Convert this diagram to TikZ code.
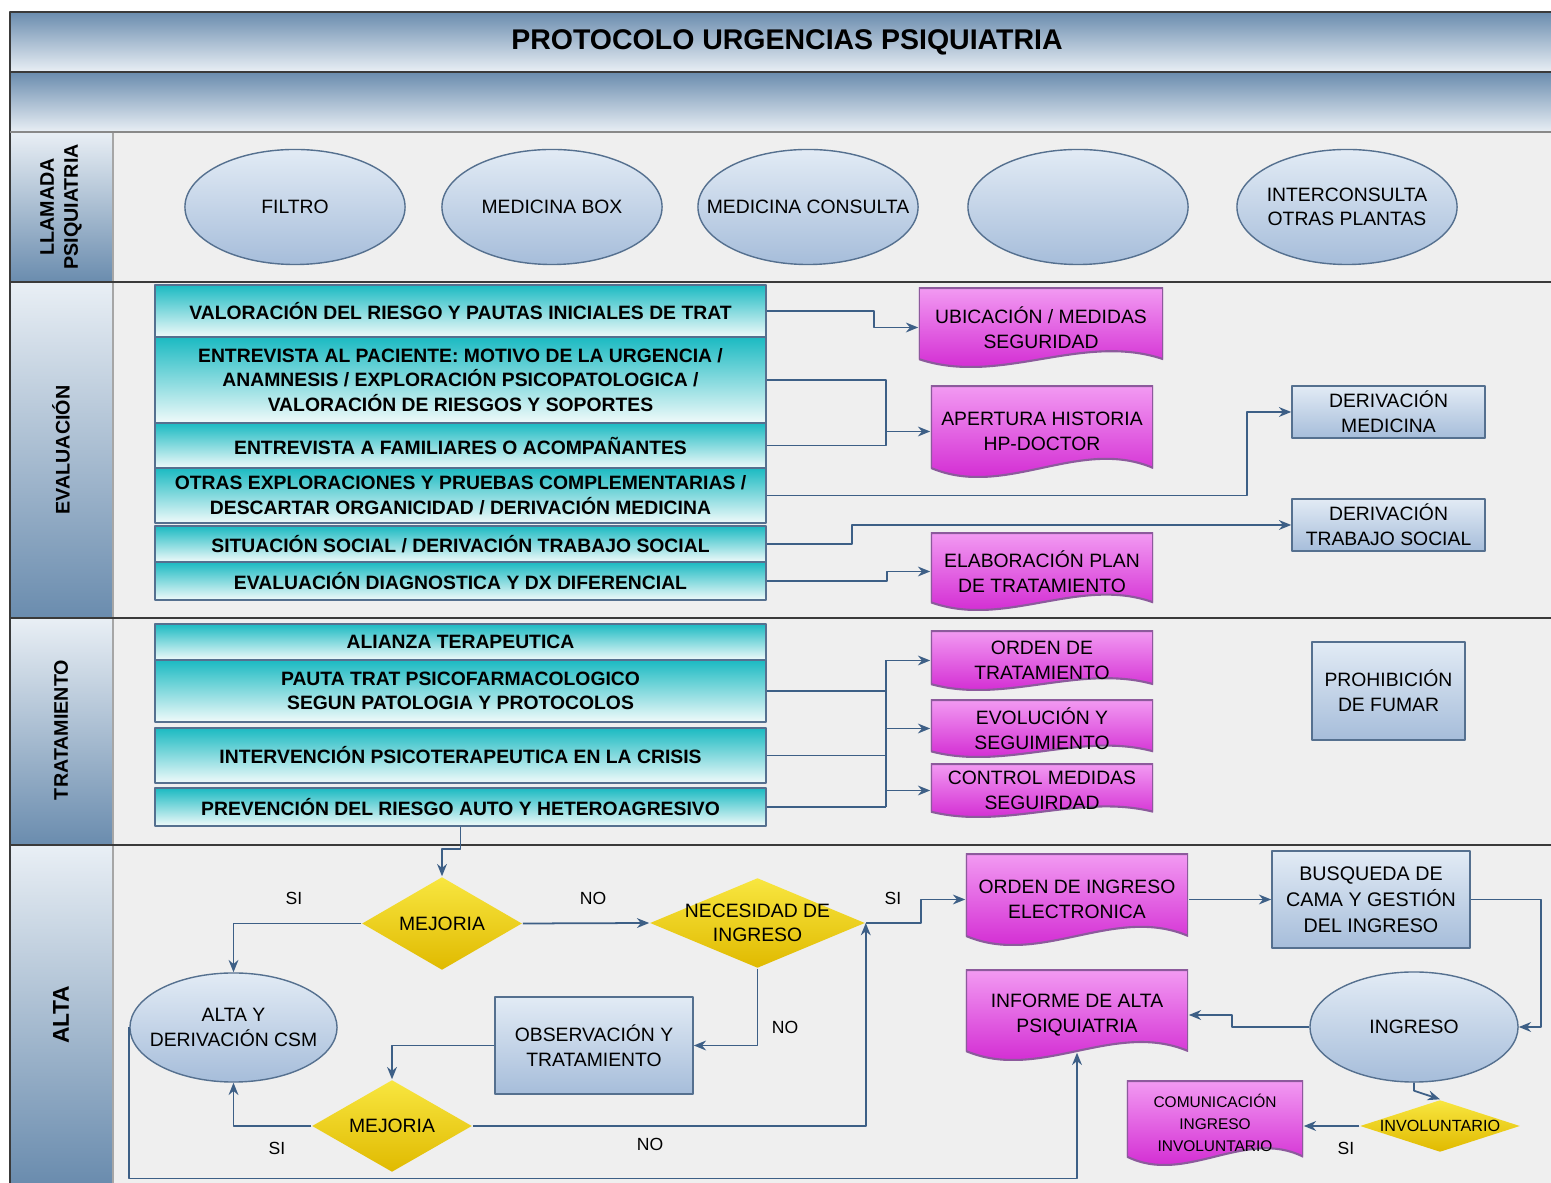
\documentclass[tikz,border=0pt]{standalone}
\usepackage{fontspec}
\setmainfont{Liberation Sans}
\usetikzlibrary{shapes.geometric,arrows.meta,calc}
\definecolor{lanebg}{HTML}{EFEFEF}
\definecolor{laneline}{HTML}{3A3A3A}
\definecolor{hdrdark}{HTML}{6A8CAE}
\definecolor{hdrlight}{HTML}{E9EFF5}
\definecolor{tealtop}{HTML}{1BBAC2}
\definecolor{tealbot}{HTML}{F0FAFA}
\definecolor{magtop}{HTML}{F29AF2}
\definecolor{magbot}{HTML}{CC14CC}
\definecolor{magline}{HTML}{8C5A9C}
\definecolor{bluetop}{HTML}{E2EBF5}
\definecolor{bluebot}{HTML}{A6BDDA}
\definecolor{yeltop}{HTML}{F8E640}
\definecolor{yelbot}{HTML}{E0BA00}
\definecolor{arrowc}{HTML}{3D5F86}
\definecolor{edgec}{HTML}{55708F}
\begin{document}
\begin{tikzpicture}[x=0.01cm,y=-0.01cm,>={Stealth[length=3.5pt,width=2.8pt]}, font=\fontsize{5.5}{7}\selectfont, line join=round,
	flow/.style={->, draw=arrowc, line width=0.5pt},
	wire/.style={draw=arrowc, line width=0.5pt},
	lanelbl/.style={rotate=90, align=center, font=\bfseries\fontsize{5.6}{6.8}\selectfont},
	ovalnode/.style={ellipse, draw=edgec, top color=bluetop, bottom color=bluebot, inner xsep=-0.25cm, inner ysep=0pt, align=center},
	bluebox/.style={rectangle, draw=edgec, top color=bluetop, bottom color=bluebot, inner sep=0pt, align=center},
	tealbox/.style={rectangle, draw=edgec, top color=tealtop, bottom color=tealbot, inner sep=0pt, align=center, minimum width=6.11cm, font=\bfseries\fontsize{5.5}{7}\selectfont},
	decision/.style={diamond, top color=yeltop, bottom color=yelbot, inner xsep=-0.15cm, inner ysep=-0.05cm, align=center},
	docbox/.style={rectangle, inner sep=0pt, align=center, path picture={
		\shade[top color=magtop, bottom color=magbot, draw=magline, line width=0.6pt]
			let \p1=(path picture bounding box.south west), \p2=(path picture bounding box.north east),
				\n1={\x2-\x1}, \n2={\y2-\y1} in
			(\x1,\y2) -- (\x2,\y2) -- (\x2,{\y1+0.1*\n2})
			.. controls ({\x1+0.667*\n1},{\y1+0.446*\n2}) and ({\x1+0.333*\n1},{\y1-0.246*\n2}) .. (\x1,{\y1+0.1*\n2}) -- cycle;}},
	lbl/.style={font=\fontsize{5}{6}\selectfont}]
	\useasboundingbox (0,0) rectangle (1551,1183);
	\fill[white] (0,0) rectangle (1551,1183);
	% calles
	\fill[lanebg] (10,132) rectangle (1551,1183);
	\shade[top color=hdrdark, bottom color=hdrlight] (10,12) rectangle (1551,72);
	\shade[top color=hdrdark, bottom color=hdrlight] (10,72) rectangle (1551,132);
	\shade[top color=hdrlight, bottom color=hdrdark] (10,132) rectangle (113,282);
	\shade[top color=hdrlight, bottom color=hdrdark] (10,282) rectangle (113,618);
	\shade[top color=hdrlight, bottom color=hdrdark] (10,618) rectangle (113,845);
	\shade[top color=hdrlight, bottom color=hdrdark] (10,845) rectangle (113,1183);
	\draw[gray!70] (113,132) -- (113,1183);
	\draw[laneline] (10,1183) -- (10,12) -- (1551,12);
	\draw[laneline] (10,72) -- (1551,72);
	\draw[laneline!60] (10,132) -- (1551,132);
	\draw[laneline] (10,282) -- (1551,282);
	\draw[laneline] (10,618) -- (1551,618);
	\draw[laneline] (10,845) -- (1551,845);
	\node[font=\bfseries\fontsize{8.1}{10}\selectfont] (titulo) at (787,42) {PROTOCOLO URGENCIAS PSIQUIATRIA};
	\node[lanelbl] (llamada) at (61,207) {LLAMADA\\PSIQUIATRIA};
	\node[lanelbl] (evaluacion) at (61,450) {EVALUACIÓN};
	\node[lanelbl] (tratamiento) at (61,730) {TRATAMIENTO};
	\node[lanelbl, font=\bfseries\fontsize{6.5}{8}\selectfont] (alta) at (61,1015) {ALTA};
	% llamada
	\node[ovalnode, minimum width=2.2cm, minimum height=1.15cm] (filtro) at (295,207) {FILTRO};
	\node[ovalnode, minimum width=2.2cm, minimum height=1.15cm] (medbox) at (552,207) {MEDICINA BOX};
	\node[ovalnode, minimum width=2.2cm, minimum height=1.15cm] (medcons) at (808,207) {MEDICINA CONSULTA};
	\node[ovalnode, minimum width=2.2cm, minimum height=1.15cm] (vacio) at (1078,207) {};
	\node[ovalnode, minimum width=2.2cm, minimum height=1.15cm] (interc) at (1347,207) {INTERCONSULTA\\OTRAS PLANTAS};
	% evaluacion
	\node[tealbox, minimum height=0.52cm] (valor) at (460.5,311) {VALORACIÓN DEL RIESGO Y PAUTAS INICIALES DE TRAT};
	\node[tealbox, minimum height=0.86cm] (paciente) at (460.5,380) {ENTREVISTA AL PACIENTE: MOTIVO DE LA URGENCIA /\\ANAMNESIS / EXPLORACIÓN PSICOPATOLOGICA /\\VALORACIÓN DE RIESGOS Y SOPORTES};
	\node[tealbox, minimum height=0.45cm] (familia) at (460.5,445.5) {ENTREVISTA A FAMILIARES O ACOMPAÑANTES};
	\node[tealbox, minimum height=0.55cm] (otras) at (460.5,495.5) {OTRAS EXPLORACIONES Y PRUEBAS COMPLEMENTARIAS /\\DESCARTAR ORGANICIDAD / DERIVACIÓN MEDICINA};
	\node[tealbox, minimum height=0.36cm] (social) at (460.5,544) {SITUACIÓN SOCIAL / DERIVACIÓN TRABAJO SOCIAL};
	\node[tealbox, minimum height=0.38cm] (diag) at (460.5,581) {EVALUACIÓN DIAGNOSTICA Y DX DIFERENCIAL};
	\node[docbox, minimum width=2.44cm, minimum height=0.79cm] (ubic) at (1041,327.5) {UBICACIÓN / MEDIDAS\\SEGURIDAD};
	\node[docbox, minimum width=2.22cm, minimum height=0.91cm] (apert) at (1042,431.5) {APERTURA HISTORIA\\HP-DOCTOR};
	\node[docbox, minimum width=2.22cm, minimum height=0.77cm] (elab) at (1042,571.5) {ELABORACIÓN PLAN\\DE TRATAMIENTO};
	\node[bluebox, minimum width=1.93cm, minimum height=0.52cm] (dmed) at (1388.5,412) {DERIVACIÓN\\MEDICINA};
	\node[bluebox, minimum width=1.93cm, minimum height=0.52cm] (dts) at (1388.5,525) {DERIVACIÓN\\TRABAJO SOCIAL};
	\draw[flow] (valor.east) -- ++(107,0) |- (ubic.west);
	\coordinate (jhist) at (886,431.5);
	\draw[wire] (paciente.east) -| (jhist);
	\draw[wire] (familia.east) -| (jhist);
	\draw[flow] (jhist) -- (apert.west);
	\draw[flow] (otras.east) -- ++(480,0) |- (dmed.west);
	\draw[flow] (social.east) -- ++(85,0) |- (dts.west);
	\draw[flow] (diag.east) -- ++(120,0) |- (elab.west);
	% tratamiento
	\node[tealbox, minimum height=0.36cm] (alianza) at (460.5,642) {ALIANZA TERAPEUTICA};
	\node[tealbox, minimum height=0.62cm] (pauta) at (460.5,691) {PAUTA TRAT PSICOFARMACOLOGICO\\SEGUN PATOLOGIA Y PROTOCOLOS};
	\node[tealbox, minimum height=0.55cm] (interv) at (460.5,755.5) {INTERVENCIÓN PSICOTERAPEUTICA EN LA CRISIS};
	\node[tealbox, minimum height=0.38cm] (prev) at (460.5,807) {PREVENCIÓN DEL RIESGO AUTO Y HETEROAGRESIVO};
	\node[docbox, minimum width=2.22cm, minimum height=0.59cm] (ordent) at (1042,660.5) {ORDEN DE\\TRATAMIENTO};
	\node[docbox, minimum width=2.22cm, minimum height=0.57cm] (evol) at (1042,728.5) {EVOLUCIÓN Y\\SEGUIMIENTO};
	\node[docbox, minimum width=2.22cm, minimum height=0.53cm] (control) at (1042,790.5) {CONTROL MEDIDAS\\SEGUIRDAD};
	\node[bluebox, minimum width=1.53cm, minimum height=0.98cm] (fumar) at (1388.5,691) {PROHIBICIÓN\\DE FUMAR};
	\coordinate (bus) at (886,700);
	\draw[wire] (pauta.east) -- (bus |- pauta.east);
	\draw[wire] (interv.east) -- (bus |- interv.east);
	\draw[wire] (prev.east) -- (bus |- prev.east);
	\draw[wire] (bus |- ordent.west) -- (bus |- prev.east);
	\draw[flow] (bus |- ordent.west) -- (ordent.west);
	\draw[flow] (bus |- evol.west) -- (evol.west);
	\draw[flow] (bus |- control.west) -- (control.west);
	% alta
	\node[decision, minimum width=1.6cm, minimum height=0.93cm, shape aspect=1.7] (mej1) at (442,923.5) {MEJORIA};
	\node[decision, minimum width=2.15cm, minimum height=0.9cm, shape aspect=2.4] (neces) at (757.5,923) {NECESIDAD DE\\INGRESO};
	\node[ovalnode, minimum width=2.07cm, minimum height=1.09cm] (altacsm) at (233.5,1027.5) {ALTA Y\\DERIVACIÓN CSM};
	\node[bluebox, minimum width=1.98cm, minimum height=0.97cm] (observ) at (594,1045.5) {OBSERVACIÓN Y\\TRATAMIENTO};
	\node[decision, minimum width=1.6cm, minimum height=0.92cm, shape aspect=1.7] (mej2) at (392,1126) {MEJORIA};
	\node[docbox, minimum width=2.22cm, minimum height=0.91cm] (ordeni) at (1077,899.5) {ORDEN DE INGRESO\\ELECTRONICA};
	\node[bluebox, minimum width=1.98cm, minimum height=0.97cm, font=\fontsize{5.6}{7.4}\selectfont] (busq) at (1371,899.5) {BUSQUEDA DE\\CAMA Y GESTIÓN\\DEL INGRESO};
	\node[docbox, minimum width=2.22cm, minimum height=0.90cm] (inform) at (1077,1015) {INFORME DE ALTA\\PSIQUIATRIA};
	\node[ovalnode, minimum width=2.08cm, minimum height=1.10cm] (ingreso) at (1414,1027) {INGRESO};
	\node[decision, minimum width=1.6cm, minimum height=0.52cm, shape aspect=3, font=\fontsize{4.6}{5.5}\selectfont] (invol) at (1440,1126) {INVOLUNTARIO};
	\node[docbox, minimum width=1.76cm, minimum height=0.84cm, font=\fontsize{4.4}{6.3}\selectfont] (comun) at (1215,1123) {COMUNICACIÓN\\INGRESO\\INVOLUNTARIO};
	\draw[flow] (prev.south) -- ++(0,22) -| (mej1.north);
	\draw[flow] (mej1.west) -| (altacsm.north);
	\draw[flow] (mej1.east) -- (neces.west);
	\draw[flow] (neces.east) -- ++(55,0) |- (ordeni.west);
	\draw[flow] (neces.south) |- (observ.east);
	\draw[flow] (observ.west) -| (mej2.north);
	\draw[flow] (mej2.west) -| (altacsm.south);
	\draw[flow] (mej2.east) -| (neces.east);
	\draw[flow] (altacsm.west) -- ++(0,151) -| ($(inform.south)+(0,-8)$);
	\draw[flow] (ordeni.east) -- (busq.west);
	\draw[flow] (busq.east) -- ++(70,0) |- (ingreso.east);
	\draw[flow] (ingreso.west) -- ++(-77,0) |- (inform.east);
	\draw[flow] (ingreso.south) -- ++(0,8) -- (invol.north);
	\draw[flow] (invol.west) -- (invol.west -| comun.east);
	\node[lbl] (si1) at (294,898) {SI};
	\node[lbl] (no1) at (593,898) {NO};
	\node[lbl] (si2) at (893,898) {SI};
	\node[lbl] (no2) at (785,1027) {NO};
	\node[lbl] (si3) at (277,1148) {SI};
	\node[lbl] (no3) at (650,1144) {NO};
	\node[lbl] (si4) at (1346,1148) {SI};
\end{tikzpicture}
\end{document}
